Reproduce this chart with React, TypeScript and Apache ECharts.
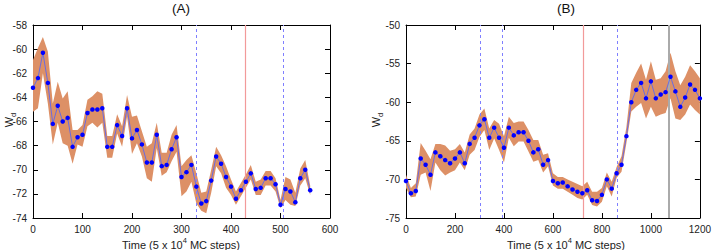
import React, { useEffect, useRef } from "react";
import * as echarts from "echarts";

// ---- Panel (A) ----
const timeA = [0, 10, 20, 30, 40, 50, 60, 70, 80, 90, 100, 110, 120, 130, 140, 150, 160, 170, 180, 190, 200, 210, 220, 230, 240, 250, 260, 270, 280, 290, 300, 310, 320, 330, 340, 350, 360, 370, 380, 390, 400, 410, 420, 430, 440, 450, 460, 470, 480, 490, 500, 510, 520, 530, 540, 550, 560];
const meanA = [-63.2, -62.4, -60.3, -62.8, -66.2, -64.7, -66.0, -65.7, -68.1, -67.3, -67.1, -65.3, -65.0, -65.0, -64.9, -68.1, -68.1, -66.3, -67.2, -64.9, -67.4, -66.7, -67.9, -69.4, -69.4, -67.1, -69.7, -69.6, -68.3, -67.3, -70.6, -70.2, -69.6, -71.4, -72.8, -72.6, -70.9, -68.9, -69.5, -70.6, -71.4, -72.4, -71.7, -71.0, -70.3, -71.6, -71.5, -70.7, -70.7, -71.2, -72.9, -71.6, -71.8, -72.7, -70.7, -70.0, -71.7];
const upperA = [-60.9, -59.9, -59.0, -60.2, -64.5, -62.7, -64.1, -63.5, -66.7, -66.7, -66.3, -64.2, -63.9, -63.5, -63.7, -67.2, -67.2, -65.4, -66.4, -63.8, -65.6, -65.5, -66.8, -68.1, -67.8, -66.1, -68.6, -68.6, -67.1, -66.3, -69.7, -69.2, -68.8, -70.3, -71.9, -71.8, -70.0, -68.1, -68.8, -69.7, -70.8, -71.8, -71.1, -70.4, -69.6, -71.0, -70.8, -70.1, -70.1, -70.7, -72.5, -70.6, -70.8, -71.9, -69.9, -69.2, -71.3];
const lowerA = [-65.2, -64.9, -62.0, -64.5, -67.9, -66.1, -67.8, -68.0, -69.5, -67.9, -68.1, -66.4, -66.1, -66.5, -66.1, -69.0, -69.0, -67.0, -68.1, -65.6, -68.7, -67.8, -68.9, -70.7, -71.0, -68.2, -70.5, -70.2, -69.3, -68.5, -72.2, -71.8, -71.0, -72.8, -73.4, -73.6, -71.9, -69.7, -70.3, -71.5, -72.1, -72.9, -72.2, -71.5, -70.8, -72.1, -72.1, -71.3, -71.3, -71.8, -73.2, -72.5, -72.9, -73.0, -71.3, -70.7, -72.1];
const dashedA = [330, 505];
const redA = [428];

// ---- Panel (B) ----
const timeB = [0, 20, 40, 60, 80, 100, 120, 140, 160, 180, 200, 220, 240, 260, 280, 300, 320, 340, 360, 380, 400, 420, 440, 460, 480, 500, 520, 540, 560, 580, 600, 620, 640, 660, 680, 700, 720, 740, 760, 780, 800, 820, 840, 860, 880, 900, 920, 940, 960, 980, 1000, 1020, 1040, 1060, 1080, 1100, 1120, 1140, 1160, 1180, 1200];
const meanB = [-70.2, -71.8, -71.5, -67.3, -68.1, -69.4, -66.5, -67.0, -67.5, -67.9, -67.3, -66.5, -67.9, -65.4, -64.6, -63.0, -62.2, -64.6, -63.3, -64.6, -65.9, -63.3, -64.3, -63.9, -63.9, -65.0, -66.5, -66.1, -68.1, -67.5, -70.2, -70.5, -70.4, -70.9, -71.3, -71.6, -71.8, -71.4, -72.7, -72.8, -72.0, -70.0, -71.2, -69.2, -68.1, -64.4, -60.0, -58.4, -57.5, -59.5, -57.3, -59.5, -59.0, -58.7, -56.7, -58.6, -60.6, -59.4, -57.7, -58.4, -59.5];
const upperB = [-69.4, -71.1, -70.5, -65.3, -66.3, -67.4, -65.4, -65.4, -65.6, -66.3, -66.1, -65.4, -66.5, -64.2, -63.4, -61.6, -60.8, -63.4, -62.3, -62.8, -64.4, -61.9, -62.7, -62.5, -62.5, -63.6, -64.9, -64.9, -66.8, -66.6, -69.2, -69.7, -69.7, -70.0, -70.3, -70.6, -70.9, -70.3, -71.6, -71.6, -71.1, -69.1, -70.3, -68.4, -67.0, -63.2, -57.5, -56.2, -55.0, -57.1, -54.7, -57.1, -56.9, -56.0, -53.6, -56.0, -57.8, -56.7, -55.2, -56.0, -56.9];
const lowerB = [-71.1, -72.3, -72.2, -69.4, -69.1, -71.5, -67.8, -68.8, -69.5, -69.1, -68.8, -67.8, -68.8, -66.8, -66.2, -64.5, -63.6, -66.2, -64.7, -66.2, -67.8, -64.6, -65.7, -65.1, -65.1, -66.4, -67.7, -67.5, -69.1, -68.3, -70.8, -71.2, -71.2, -71.6, -72.0, -72.4, -72.6, -72.0, -73.3, -73.5, -72.9, -70.9, -72.2, -69.8, -69.0, -65.3, -61.2, -60.6, -60.1, -62.1, -60.6, -61.9, -61.6, -61.4, -59.5, -62.1, -62.3, -61.6, -60.3, -61.0, -61.6];
const dashedB = [304, 393, 863];
const redB = [724];
const grayB = [1074];

const titles = ["(A)", "(B)"];

const FONT = "'Liberation Sans', Arial, sans-serif";
const BAND = "#dd9066";

function makeAxes(gridIndex: number, min: number, max: number, interval: number, isX: boolean) {
  const base = {
    gridIndex,
    type: "value",
    min,
    max,
    interval,
    axisLine: { show: true, onZero: false, lineStyle: { color: "#000", width: 1 } },
    axisTick: { show: true, inside: true, length: 5, lineStyle: { color: "#000", width: 1 } },
    splitLine: { show: false },
  };
  return [
    {
      ...base,
      position: isX ? "bottom" : "left",
      axisLabel: {
        show: true,
        fontSize: 10,
        color: "#222",
        fontFamily: FONT,
        margin: 6,
        showMinLabel: true,
        showMaxLabel: true,
        formatter: (v: number) => String(v),
      },
    },
    { ...base, position: isX ? "top" : "right", axisLabel: { show: false } },
  ];
}

function bandSeries(idx: number, times: number[], lower: number[], upper: number[]) {
  return {
    type: "custom",
    xAxisIndex: idx * 2,
    yAxisIndex: idx * 2,
    silent: true,
    z: 1,
    clip: true,
    encode: { x: 0, y: [1, 2] },
    data: times.map((t, i) => [t, lower[i], upper[i]]),
    renderItem: (params: any, api: any) => {
      if (params.dataIndex !== 0) return null;
      const pts: number[][] = [];
      for (let i = 0; i < times.length; i++) pts.push(api.coord([times[i], upper[i]]));
      for (let i = times.length - 1; i >= 0; i--) pts.push(api.coord([times[i], lower[i]]));
      return {
        type: "polygon",
        shape: { points: pts },
        style: { fill: BAND, stroke: "none" },
      };
    },
  };
}

function meanSeries(idx: number, times: number[], mean: number[], dashed: number[], red: number[], gray: number[]) {
  const lines: any[] = [];
  dashed.forEach((x) => lines.push({ xAxis: x, lineStyle: { color: "#7f7fff", type: [3, 3], width: 1 } }));
  red.forEach((x) => lines.push({ xAxis: x, lineStyle: { color: "#f29a9a", type: "solid", width: 1.2 } }));
  gray.forEach((x) => lines.push({ xAxis: x, lineStyle: { color: "#aaaaaa", type: "solid", width: 2 } }));
  return {
    type: "line",
    xAxisIndex: idx * 2,
    yAxisIndex: idx * 2,
    data: times.map((t, i) => [t, mean[i]]),
    symbol: "circle",
    symbolSize: 4.5,
    itemStyle: { color: "#0000ff" },
    lineStyle: { color: "#6b6be0", width: 1 },
    z: 3,
    markLine: {
      silent: true,
      symbol: ["none", "none"],
      label: { show: false },
      animation: false,
      data: lines,
      z: 2,
    },
  };
}

export default function App() {
  const ref = useRef<HTMLDivElement>(null);
  useEffect(() => {
    if (!ref.current) return;
    const chart = echarts.init(ref.current, null, { renderer: "svg" });
    const gridA = { left: 33, top: 25, width: 297, height: 193 };
    const gridB = { left: 406, top: 25, width: 296, height: 193 };
    const xLabel = (cx: number) => ({
      type: "text",
      x: cx,
      y: 243,
      style: {
        text: "{a|Time (5 x 10}{s|4}{a| MC steps)}",
        align: "center",
        verticalAlign: "middle",
        fill: "#222",
        rich: {
          a: { fontSize: 11, fontFamily: FONT, fill: "#222", lineHeight: 14, verticalAlign: "bottom" },
          s: { fontSize: 7.5, fontFamily: FONT, fill: "#222", lineHeight: 14, verticalAlign: "top" },
        },
      },
    });
    const yLabel = (cx: number) => ({
      type: "text",
      x: cx,
      y: 120,
      rotation: Math.PI / 2,
      style: {
        text: "{w|W}{d|d}",
        align: "center",
        verticalAlign: "middle",
        fill: "#222",
        rich: {
          w: { fontSize: 11, fontFamily: FONT, fill: "#222", lineHeight: 14, verticalAlign: "top" },
          d: { fontSize: 7.5, fontFamily: FONT, fill: "#222", lineHeight: 14, verticalAlign: "bottom" },
        },
      },
    });
    const option: any = {
      animation: false,
      grid: [gridA, gridB],
      xAxis: [...makeAxes(0, 0, 600, 100, true), ...makeAxes(1, 0, 1200, 200, true)],
      yAxis: [...makeAxes(0, -74, -58, 2, false), ...makeAxes(1, -75, -50, 5, false)],
      series: [
        bandSeries(0, timeA, lowerA, upperA),
        meanSeries(0, timeA, meanA, dashedA, redA, []),
        bandSeries(1, timeB, lowerB, upperB),
        meanSeries(1, timeB, meanB, dashedB, redB, grayB),
      ],
      graphic: [
        {
          type: "text",
          x: 181,
          y: 8,
          style: { text: titles[0], fontSize: 13.5, fontFamily: FONT, fill: "#111", align: "center", verticalAlign: "middle" },
        },
        {
          type: "text",
          x: 566,
          y: 8,
          style: { text: titles[1], fontSize: 13.5, fontFamily: FONT, fill: "#111", align: "center", verticalAlign: "middle" },
        },
        xLabel(181),
        xLabel(566),
        yLabel(10),
        yLabel(377),
      ],
    };
    chart.setOption(option);
    return () => chart.dispose();
  }, []);
  return (
    <div
      ref={ref}
      style={{ position: "fixed", left: 0, top: 0, width: 714, height: 250, background: "#fff" }}
    />
  );
}
